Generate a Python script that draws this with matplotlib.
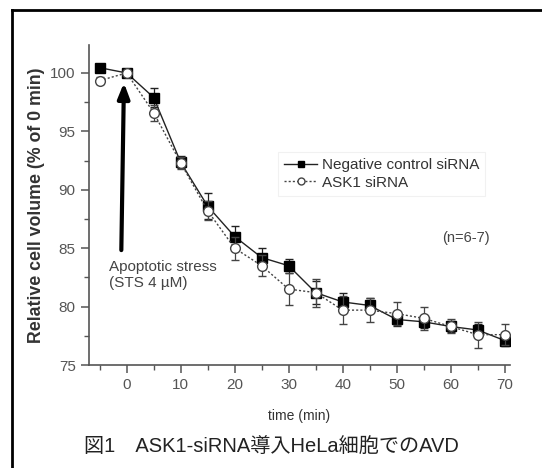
import matplotlib
matplotlib.use("Agg")
import matplotlib.pyplot as plt
from matplotlib.ticker import MultipleLocator
from matplotlib.lines import Line2D

plt.rcParams['font.family'] = ['Liberation Sans', 'Noto Sans CJK JP', 'DejaVu Sans']

time = [-5, 0, 5, 10, 15, 20, 25, 30, 35, 40, 45, 50, 55, 60, 65, 70]
neg_ctrl = [100.45, 100.0, 97.9, 92.35, 88.6, 86.0, 84.2, 83.5, 81.2, 80.4, 80.1, 78.9, 78.7, 78.3, 78.0, 77.1]
neg_err = [0.0, 0.0, 0.8, 0.5, 1.1, 0.9, 0.8, 0.6, 1.0, 0.8, 0.6, 0.6, 0.5, 0.5, 0.5, 0.5]
ask1 = [99.35, 100.0, 96.6, 92.3, 88.2, 85.0, 83.5, 81.5, 81.2, 79.7, 79.7, 79.4, 79.0, 78.3, 77.6, 77.6]
ask1_err = [0.3, 0.0, 0.7, 0.5, 0.8, 1.0, 0.9, 1.4, 1.2, 1.2, 1.0, 1.0, 1.0, 0.6, 1.1, 0.9]

gray = '#555555'
fig = plt.figure(figsize=(5.42, 4.68), dpi=100)
ax = fig.add_axes([0.164, 0.220, 0.777, 0.684])

ax.errorbar(time, ask1, yerr=ask1_err, color='#444444', ls=(0, (1.5, 1.5)), lw=1.0,
            marker='o', ms=7, mfc='white', mec='#444444', mew=1.0,
            capsize=3, elinewidth=0.9, ecolor='#444444', zorder=3)
ax.errorbar(time, neg_ctrl, yerr=neg_err, color='#222222', ls='-', lw=1.0,
            marker='s', ms=6.5, mfc='black', mec='black',
            capsize=3, elinewidth=0.9, ecolor='#222222', zorder=2)

ax.set_xlim(-7, 71)
ax.set_ylim(75, 102.4)
ax.xaxis.set_major_locator(MultipleLocator(10))
ax.xaxis.set_minor_locator(MultipleLocator(5))
ax.yaxis.set_major_locator(MultipleLocator(5))
ax.yaxis.set_minor_locator(MultipleLocator(2.5))
for s in ['top', 'right']:
    ax.spines[s].set_visible(False)
for s in ['left', 'bottom']:
    ax.spines[s].set_color(gray)
    ax.spines[s].set_linewidth(1.2)
ax.tick_params(which='major', direction='out', length=6, width=1.1, color=gray,
               labelcolor='#555555', labelsize=11)
ax.tick_params(which='minor', direction='out', length=3.5, width=1.0, color=gray)

ax.set_xlabel('time (min)', fontsize=10, color='#333333', labelpad=12)
ax.set_ylabel('Relative cell volume (% of 0 min)', fontsize=12.8, color='#333333',
              fontweight='bold', labelpad=4)

ax.annotate('', xy=(-0.5, 99.4), xytext=(-1.0, 84.6),
            arrowprops=dict(arrowstyle='-|>,head_width=0.35,head_length=0.9',
                            color='black', lw=3))
ax.text(-3.3, 84.0, 'Apoptotic stress\n(STS 4 µM)', fontsize=11, color='#444444',
        va='top', ha='left', linespacing=1.15)
ax.text(58.5, 85.9, '(n=6-7)', fontsize=10.5, color='#444444', ha='left', va='center')

handles = [Line2D([], [], color='#222222', ls='-', lw=1.0, marker='s', ms=5, mfc='black', mec='black'),
           Line2D([], [], color='#444444', ls=(0, (1.5, 1.5)), lw=1.0, marker='o', ms=5,
                  mfc='white', mec='#444444')]
leg = ax.legend(handles, ['Negative control siRNA', 'ASK1 siRNA'], loc='upper left',
                bbox_to_anchor=(0.43, 0.69), fontsize=11, frameon=True, handlelength=2.2,
                handletextpad=0.3, labelspacing=0.25, borderpad=0.4, fancybox=False)
leg.get_frame().set_edgecolor('#eeeeee')
leg.get_frame().set_linewidth(0.8)
for t in leg.get_texts():
    t.set_color('#333333')

fig.add_artist(Line2D([12/542, 1.0], [1 - 10/468, 1 - 10/468], color='black', lw=2))
fig.add_artist(Line2D([12/542, 12/542], [0, 1 - 10/468], color='black', lw=2))

fig.text(0.5, 1 - 447/468, '図1　ASK1-siRNA導入HeLa細胞でのAVD', fontsize=14.5,
         color='#222222', ha='center', va='center')

fig.savefig('out.png', dpi=100)
